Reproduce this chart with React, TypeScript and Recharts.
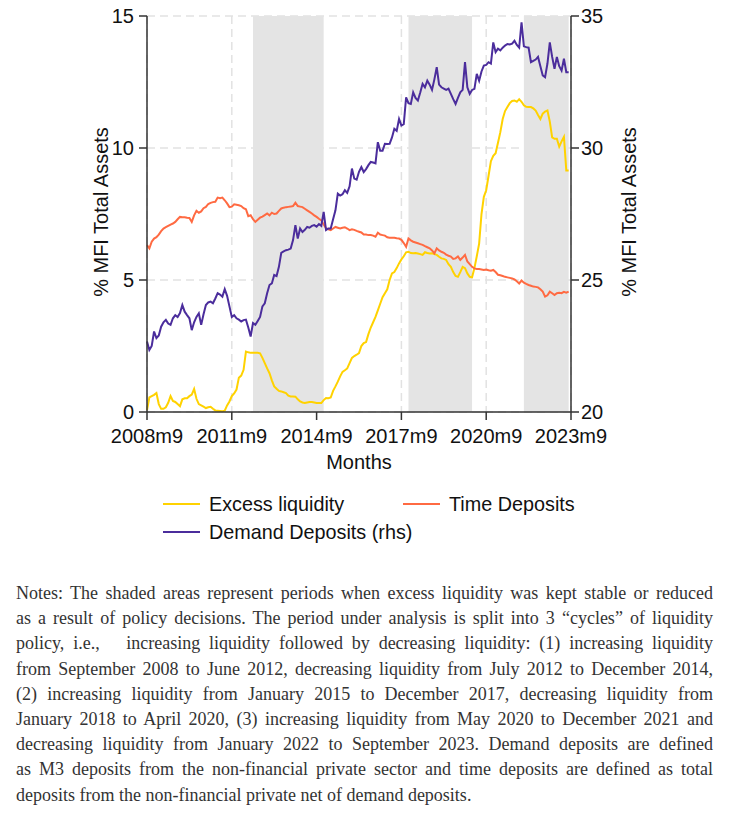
import React from 'react';
import { LineChart, Line, XAxis, YAxis, CartesianGrid, ReferenceArea } from 'recharts';

// monthly observations, 2008m9 onwards (index 0 = 2008m9)
const EXCESS = [
  0.07, 0.55, 0.6, 0.65, 0.72, 0.3, 0.12, 0.12, 0.18, 0.35, 0.6, 0.42,
  0.38, 0.3, 0.22, 0.48, 0.52, 0.52, 0.6, 0.66, 0.87, 0.5, 0.3, 0.25,
  0.2, 0.15, 0.18, 0.2, 0.12, 0.06, 0.05, 0.04, 0.03, 0.05, 0.25, 0.4,
  0.6, 0.7, 0.85, 1.3, 1.38, 1.6, 2.29, 2.26, 2.24, 2.24, 2.24, 2.24,
  2.22, 2.05, 1.85, 1.65, 1.47, 1.2, 0.97, 0.88, 0.8, 0.78, 0.75, 0.72,
  0.62, 0.59, 0.59, 0.58, 0.48, 0.4, 0.36, 0.34, 0.36, 0.38, 0.38, 0.36,
  0.34, 0.34, 0.34, 0.45, 0.53, 0.52, 0.55, 0.8, 0.97, 1.15, 1.35, 1.52,
  1.58, 1.65, 1.85, 2.05, 2.12, 2.17, 2.23, 2.5, 2.61, 2.65, 2.95, 3.2,
  3.4, 3.6, 3.85, 4.1, 4.35, 4.5, 4.65, 5.0, 5.25, 5.3, 5.45, 5.63,
  5.78, 5.9, 6.05, 6.07, 6.02, 6.01, 6.02, 6.0, 5.98, 5.95, 6.05, 6.02,
  6.0, 6.01, 5.98, 5.95, 5.88, 5.82, 5.8, 5.76, 5.6, 5.5, 5.3, 5.15,
  5.12, 5.3, 5.5, 5.45, 5.25, 5.12, 5.1, 5.45, 5.9, 6.38, 7.5, 8.15,
  8.4, 8.95, 9.5, 9.7, 9.8, 10.2, 10.6, 11.1, 11.4, 11.55, 11.7, 11.78,
  11.8, 11.75, 11.85, 11.75, 11.62, 11.56, 11.55, 11.55, 11.5, 11.42, 11.25, 11.1,
  11.3, 11.38, 11.42, 11.0, 10.4, 10.35, 10.35, 10.05, 10.25, 10.42, 9.15, 9.15,
];

const TIME_DEP = [
  6.32, 6.2, 6.45, 6.57, 6.62, 6.72, 6.85, 6.95, 7.0, 7.05, 7.1, 7.14,
  7.2, 7.3, 7.39, 7.38, 7.38, 7.36, 7.35, 7.2, 7.45, 7.62, 7.55, 7.6,
  7.72, 7.77, 7.88, 7.92, 7.95, 7.96, 8.12, 8.1, 8.12, 8.02, 7.9, 7.76,
  7.78, 7.87, 7.85, 7.83, 7.8, 7.72, 7.68, 7.42, 7.45, 7.3, 7.2, 7.28,
  7.36, 7.4, 7.46, 7.52, 7.45, 7.55, 7.5, 7.52, 7.62, 7.71, 7.74, 7.76,
  7.77, 7.78, 7.8, 7.93, 7.8, 7.78, 7.76, 7.7, 7.64, 7.58, 7.52, 7.45,
  7.39, 7.32, 7.26, 7.1, 6.96, 6.92, 6.89, 6.95, 7.01, 6.98, 6.95, 6.98,
  7.0, 6.95, 6.89, 6.92, 6.9, 6.86, 6.83, 6.8, 6.72, 6.72, 6.7, 6.7,
  6.68, 6.64, 6.79, 6.72, 6.7, 6.68, 6.62, 6.6, 6.6, 6.6, 6.58, 6.57,
  6.52, 6.4, 6.26, 6.57, 6.5, 6.45, 6.42, 6.39, 6.36, 6.33, 6.28, 6.24,
  6.2, 6.12, 6.01, 6.2, 6.12, 6.07, 6.03, 5.96, 5.92, 5.89, 5.8, 5.82,
  5.89, 5.76, 5.85, 5.95, 5.7, 5.6, 5.5, 5.44, 5.42, 5.42, 5.4, 5.38,
  5.4, 5.37, 5.35, 5.38, 5.3, 5.2, 5.18, 5.15, 5.12, 5.1, 5.08, 5.06,
  5.02, 4.95, 4.87, 4.98, 4.9, 4.85, 4.81, 4.78, 4.75, 4.74, 4.72, 4.65,
  4.56, 4.37, 4.42, 4.56, 4.5, 4.43, 4.5, 4.52, 4.5, 4.55, 4.52, 4.56,
];

const DEMAND_DEP = [
  22.67, 22.35, 22.5, 23.05, 22.8, 22.9, 23.23, 23.4, 23.49, 23.35, 23.3, 23.55,
  23.67, 23.6, 23.75, 24.05, 23.8, 23.67, 23.55, 23.1, 23.4, 23.6, 23.74, 23.3,
  23.7, 24.05, 24.15, 24.18, 24.12, 24.3, 24.5, 24.45, 24.37, 24.65, 24.4, 24.0,
  23.6, 23.67, 23.55, 23.5, 23.43, 23.48, 23.5, 23.2, 22.86, 23.37, 23.3, 23.45,
  23.6, 24.0, 24.12, 24.5, 24.81, 24.87, 25.19, 25.15, 25.5, 26.03, 26.08, 26.13,
  26.15, 26.19, 26.51, 27.08, 26.57, 26.95, 26.82, 26.9, 27.01, 26.98, 27.05, 27.08,
  27.02, 27.12, 27.05, 27.58, 26.89, 26.95, 26.95, 27.3, 27.64, 28.27, 28.2, 28.25,
  28.4, 28.3, 28.55, 29.22, 28.84, 28.8, 29.1, 29.28, 29.09, 29.2, 29.35, 29.47,
  29.45, 29.42, 30.22, 29.9, 29.9, 30.16, 30.15, 30.16, 30.4, 30.73, 30.65, 31.1,
  30.85, 30.9, 31.92, 31.7, 31.67, 32.11, 31.9, 31.8, 32.1, 32.43, 32.3, 32.55,
  32.4, 32.2, 32.6, 33.06, 32.4, 32.3, 32.25, 32.2, 32.25, 32.05, 31.85, 31.67,
  31.9, 32.11, 32.2, 33.25, 32.3, 32.05, 32.2, 32.24, 32.81, 32.55, 32.9, 33.12,
  33.15, 33.25, 33.2, 34.0, 33.63, 33.76, 33.7, 33.8, 33.88, 33.94, 33.92, 33.95,
  34.06, 33.9, 33.8, 34.76, 33.85, 33.82, 33.8, 33.25, 33.3, 33.35, 33.45, 33.1,
  32.75, 32.68, 33.2, 34.0, 33.45, 33.0, 33.45, 33.1, 32.93, 33.38, 32.87, 32.87,
];

const X_TICKS = [0, 36, 72, 108, 144, 180];
const X_LABELS = ['2008m9', '2011m9', '2014m9', '2017m9', '2020m9', '2023m9'];
const LEFT_TICKS = [0, 5, 10, 15];
const RIGHT_TICKS = [20, 25, 30, 35];
// policy periods with stable / reduced liquidity (month index from, to)
const SHADED = [
  [45, 75],
  [111, 138],
  [160, 179],
];

const NOTES = [
  'Notes: The shaded areas represent periods when excess liquidity was kept stable or reduced',
  'as a result of policy decisions. The period under analysis is split into 3 \u201ccycles\u201d of liquidity',
  'policy, i.e.,\u00a0\u00a0 increasing liquidity followed by decreasing liquidity: (1) increasing liquidity',
  'from September 2008 to June 2012, decreasing liquidity from July 2012 to December 2014,',
  '(2) increasing liquidity from January 2015 to December 2017, decreasing liquidity from',
  'January 2018 to April 2020, (3) increasing liquidity from May 2020 to December 2021 and',
  'decreasing liquidity from January 2022 to September 2023. Demand deposits are defined',
  'as M3 deposits from the non-financial private sector and time deposits are defined as total',
  'deposits from the non-financial private net of demand deposits.',
];

const data = EXCESS.map((v, i) => ({
  m: i,
  excess: v,
  time: TIME_DEP[i],
  demand: DEMAND_DEP[i],
}));

const SANS = '"Liberation Sans", Arial, sans-serif';
const YELLOW = '#ffd200';
const ORANGE = '#ff6a42';
const PURPLE = '#4b2d9c';
const AXIS = '#333';

const tickStyle = { fill: '#111', fontSize: 20, fontFamily: SANS };

const LegendItem = ({ color, label, x, y }: { color: string; label: string; x: number; y: number }) => (
  <div style={{ position: 'absolute', left: x, top: y - 13, height: 26, display: 'flex', alignItems: 'center' }}>
    <div style={{ width: 37, height: 2, background: color, marginRight: 9 }} />
    <span style={{ fontFamily: SANS, fontSize: 19.8, color: '#111', whiteSpace: 'nowrap' }}>{label}</span>
  </div>
);

const VerticalTitle = ({ x, y, text }: { x: number; y: number; text: string }) => (
  <div style={{ position: 'absolute', left: x, top: y, width: 0, height: 0 }}>
    <div
      style={{
        position: 'absolute',
        left: 0,
        top: 0,
        transform: 'translate(-50%, -50%) rotate(-90deg)',
        fontFamily: SANS,
        fontSize: 20,
        color: '#111',
        whiteSpace: 'nowrap',
      }}
    >
      {text}
    </div>
  </div>
);

const App: React.FC = () => {
  return (
    <div style={{ position: 'absolute', left: 0, top: 0, width: 731, height: 815, background: '#fff' }}>
      <LineChart width={731} height={480} data={data} margin={{ top: 16, right: 100, left: 87, bottom: 38 }}>
        <CartesianGrid yAxisId="left" stroke="#e2e2e2" strokeWidth={1.5} strokeDasharray="8 5" />
        {SHADED.map(([a, b], k) => (
          <ReferenceArea key={k} yAxisId="left" x1={a} x2={b} y1={0} y2={15} fill="#e4e4e4" fillOpacity={1} stroke="none" />
        ))}
        <XAxis
          dataKey="m"
          type="number"
          domain={[0, 180]}
          ticks={X_TICKS}
          tickFormatter={(v) => X_LABELS[X_TICKS.indexOf(v)]}
          interval={0}
          height={30}
          tick={tickStyle}
          tickSize={8}
          tickMargin={9}
          axisLine={{ stroke: AXIS, strokeWidth: 1.5 }}
          tickLine={{ stroke: AXIS, strokeWidth: 1.5 }}
        />
        <YAxis
          yAxisId="left"
          domain={[0, 15]}
          ticks={LEFT_TICKS}
          interval={0}
          width={60}
          tick={tickStyle}
          tickSize={8}
          tickMargin={5}
          axisLine={{ stroke: AXIS, strokeWidth: 1.5 }}
          tickLine={{ stroke: AXIS, strokeWidth: 1.5 }}
        />
        <YAxis
          yAxisId="right"
          orientation="right"
          domain={[20, 35]}
          ticks={RIGHT_TICKS}
          interval={0}
          width={60}
          tick={tickStyle}
          tickSize={8}
          tickMargin={2}
          axisLine={{ stroke: AXIS, strokeWidth: 1.5 }}
          tickLine={{ stroke: AXIS, strokeWidth: 1.5 }}
        />
        <Line yAxisId="left" type="linear" dataKey="excess" stroke={YELLOW} strokeWidth={2} dot={false} isAnimationActive={false} />
        <Line yAxisId="left" type="linear" dataKey="time" stroke={ORANGE} strokeWidth={2} dot={false} isAnimationActive={false} />
        <Line yAxisId="right" type="linear" dataKey="demand" stroke={PURPLE} strokeWidth={2} dot={false} isAnimationActive={false} />
      </LineChart>

      <VerticalTitle x={101} y={212} text="% MFI Total Assets" />
      <VerticalTitle x={629} y={212} text="% MFI Total Assets" />
      <div
        style={{
          position: 'absolute',
          left: 259,
          width: 200,
          top: 451,
          textAlign: 'center',
          fontFamily: SANS,
          fontSize: 20,
          color: '#111',
        }}
      >
        Months
      </div>

      <LegendItem color={YELLOW} label="Excess liquidity" x={163} y={504} />
      <LegendItem color={ORANGE} label="Time Deposits" x={403} y={504} />
      <LegendItem color={PURPLE} label="Demand Deposits (rhs)" x={163} y={532} />

      <div
        style={{
          position: 'absolute',
          left: 16,
          top: 581,
          width: 697,
          fontFamily: '"Liberation Serif", "Times New Roman", serif',
          fontSize: 18,
          lineHeight: '25.2px',
          color: '#333',
        }}
      >
        {NOTES.map((line, i) => (
          <div
            key={i}
            style={{
              textAlign: 'justify',
              textAlignLast: i === NOTES.length - 1 ? 'left' : 'justify',
            }}
          >
            {line}
          </div>
        ))}
      </div>
    </div>
  );
};

export default App;
